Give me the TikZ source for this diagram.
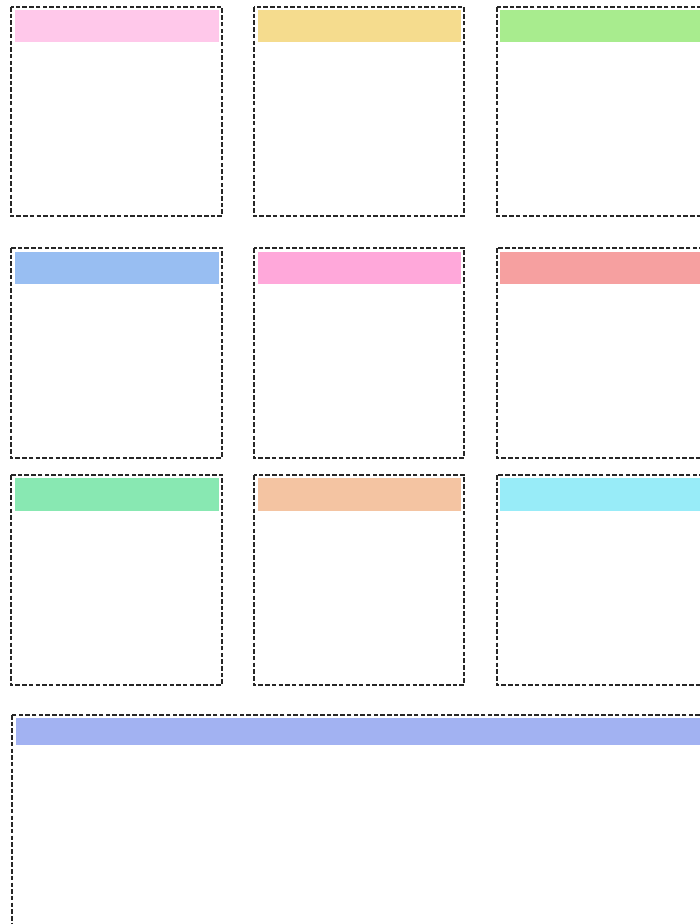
\documentclass[tikz,border=0pt]{standalone}
\begin{document}
\begin{tikzpicture}[x=1pt,y=-1pt,
  frame/.style={draw=black!85, line width=1.7pt, dash pattern=on 4.5pt off 2.2pt, fill=white},
  bar/.style={draw=none}]
\definecolor{cA}{HTML}{FFC8EA}
\definecolor{cB}{HTML}{F5DC8E}
\definecolor{cC}{HTML}{A8EC8E}
\definecolor{cD}{HTML}{98BEF2}
\definecolor{cE}{HTML}{FFA8DA}
\definecolor{cF}{HTML}{F6A0A0}
\definecolor{cG}{HTML}{88E8B2}
\definecolor{cH}{HTML}{F4C4A2}
\definecolor{cI}{HTML}{98ECF8}
\definecolor{cJ}{HTML}{A2B2F2}
\useasboundingbox (0,0) rectangle (700,924);
\clip (0,0) rectangle (700,924);
\fill[white] (0,0) rectangle (700,924);
% row 1
\draw[frame] (11,7) rectangle (222,216) node[coordinate] (b1) {};
\fill[cA] (15,10) rectangle (219,42) node[coordinate] (h1) {};
\draw[frame] (254,7) rectangle (464,216) node[coordinate] (b2) {};
\fill[cB] (258,10) rectangle (461,42) node[coordinate] (h2) {};
\draw[frame] (497,7) rectangle (712,216) node[coordinate] (b3) {};
\fill[cC] (500,10) rectangle (712,42) node[coordinate] (h3) {};
% row 2
\draw[frame] (11,248) rectangle (222,458) node[coordinate] (b4) {};
\fill[cD] (15,252) rectangle (219,284) node[coordinate] (h4) {};
\draw[frame] (254,248) rectangle (464,458) node[coordinate] (b5) {};
\fill[cE] (258,252) rectangle (461,284) node[coordinate] (h5) {};
\draw[frame] (497,248) rectangle (712,458) node[coordinate] (b6) {};
\fill[cF] (500,252) rectangle (712,284) node[coordinate] (h6) {};
% row 3
\draw[frame] (11,475) rectangle (222,685) node[coordinate] (b7) {};
\fill[cG] (15,478) rectangle (219,511) node[coordinate] (h7) {};
\draw[frame] (254,475) rectangle (464,685) node[coordinate] (b8) {};
\fill[cH] (258,478) rectangle (461,511) node[coordinate] (h8) {};
\draw[frame] (497,475) rectangle (712,685) node[coordinate] (b9) {};
\fill[cI] (500,478) rectangle (712,511) node[coordinate] (h9) {};
% bottom
\draw[frame] (12,715) rectangle (712,925) node[coordinate] (b10) {};
\fill[cJ] (16,718) rectangle (712,745) node[coordinate] (h10) {};
\end{tikzpicture}
\end{document}
